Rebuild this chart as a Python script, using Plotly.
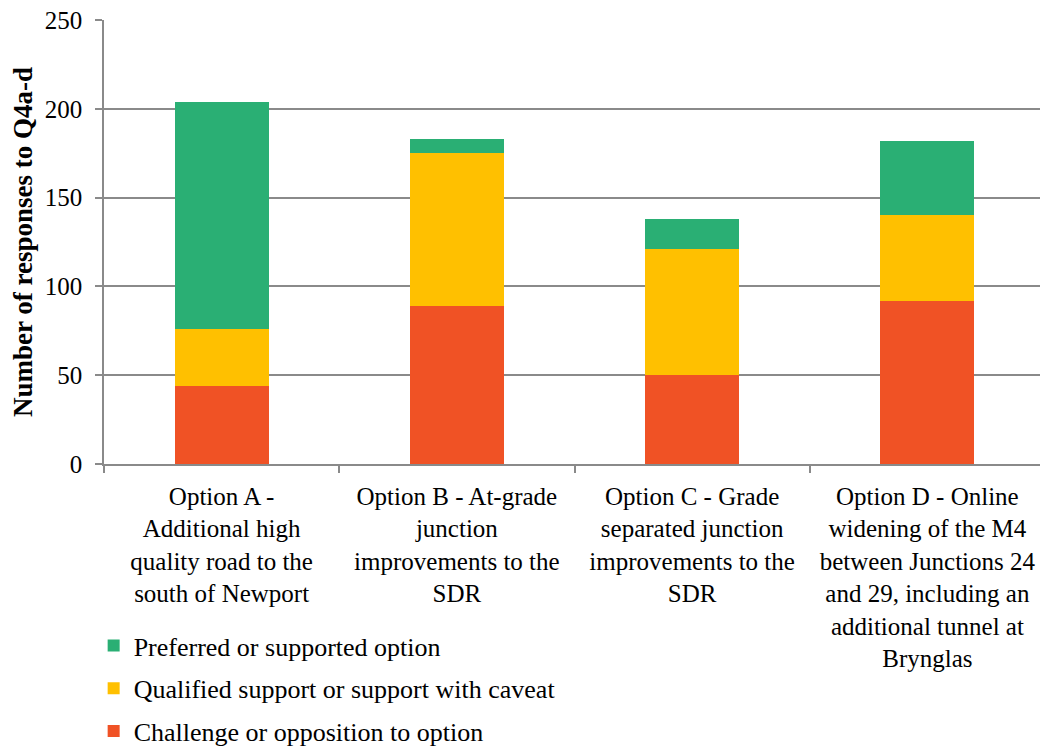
import plotly.graph_objects as go

categories = [
    "Option A -<br>Additional high<br>quality road to the<br>south of Newport",
    "Option B - At-grade<br>junction<br>improvements to the<br>SDR",
    "Option C - Grade<br>separated junction<br>improvements to the<br>SDR",
    "Option D - Online<br>widening of the M4<br>between Junctions 24<br>and 29, including an<br>additional tunnel at<br>Brynglas",
]
challenge = [44, 89, 50, 92]
qualified = [32, 86, 71, 48]
preferred = [128, 8, 17, 42]

series_names = [
    "Challenge or opposition to option",
    "Qualified support or support with caveat",
    "Preferred or supported option",
]
series_values = [challenge, qualified, preferred]
series_colors = ["#F05225", "#FFC000", "#2AAF74"]
legend_ranks = [3, 2, 1]

FONT = "Liberation Serif"

fig = go.Figure()
for name, vals, col, rank in zip(series_names, series_values, series_colors, legend_ranks):
    fig.add_trace(go.Bar(
        x=categories, y=vals, name=name, marker_color=col,
        marker_line_width=0, width=0.4, legendgroup=name, legendrank=rank,
    ))

# page has an 8px body margin, so the figure is sized 8px smaller
fig.update_layout(
    barmode="stack",
    width=1040, height=741,
    margin=dict(l=96, r=3, t=12, b=285, autoexpand=False),
    plot_bgcolor="white", paper_bgcolor="white",
    font=dict(family=FONT, size=25, color="black"),
    showlegend=True,
    legend=dict(
        orientation="v", x=-0.011, xanchor="left", y=-0.356, yanchor="top",
        traceorder="grouped", tracegroupgap=6,
        font=dict(family=FONT, size=26, color="black"),
        bgcolor="rgba(0,0,0,0)",
    ),
)
fig.update_yaxes(
    range=[0, 250], dtick=50, showgrid=True, gridcolor="#8a8a8a", gridwidth=1.5,
    showline=True, linecolor="#8a8a8a", linewidth=1.5,
    ticks="outside", ticklen=7, tickcolor="#8a8a8a", tickwidth=1.5,
    tickfont=dict(family=FONT, size=25, color="black"), zeroline=False,
    ticklabelstandoff=8, automargin=False, ticklabeloverflow="allow",
    title=dict(text="<b>Number of responses to Q4a-d</b>", font=dict(family=FONT, size=27, color="black"), standoff=8),
)
fig.update_xaxes(
    showline=True, linecolor="#8a8a8a", linewidth=1.5,
    ticks="outside", ticklen=7, tickcolor="#8a8a8a", tickwidth=1.5,
    tickson="boundaries", tickangle=0, automargin=False,
    ticklabelstandoff=9, ticklabeloverflow="allow",
    tickfont=dict(family=FONT, size=25, color="black"),
)

fig.write_html("out.html")
